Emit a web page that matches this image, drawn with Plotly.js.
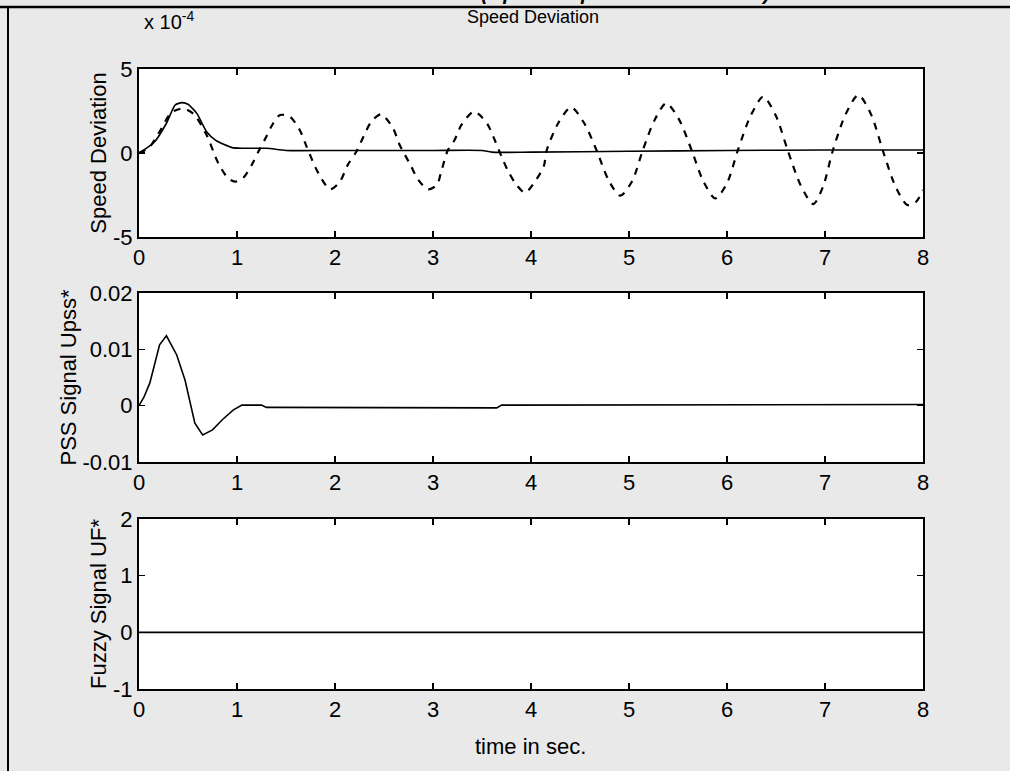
<!DOCTYPE html>
<html>
<head>
<meta charset="utf-8">
<script src="https://cdn.plot.ly/plotly-3.0.1.min.js"></script>
<style>html,body{margin:0;padding:0;background:#e9e9e9;}#chart{width:1010px;height:771px;}</style>
</head>
<body>
<div id="chart"></div>
<script>
// ---- data (speed deviation in units of 1e-4) ----
const tSpeedPSS = [0, 0.08, 0.16, 0.28, 0.37, 0.44, 0.5, 0.59, 0.69, 0.78, 0.87, 0.95, 1.05, 1.3, 1.5, 2, 3, 3.5, 3.6, 4, 5, 6, 7, 8];
const speedPSS  = [0, 0.3, 0.67, 1.77, 2.86, 3.0, 2.9, 2.36, 1.27, 0.77, 0.5, 0.32, 0.28, 0.28, 0.15, 0.15, 0.15, 0.15, 0.05, 0.05, 0.1, 0.15, 0.18, 0.18];

const tSpeedOpen = [0, 0.1, 0.21, 0.33, 0.45, 0.56, 0.69, 0.81, 0.91, 0.98, 1.06, 1.15, 1.22, 1.29, 1.37, 1.44, 1.54, 1.64, 1.71, 1.83, 1.95, 2.05, 2.13, 2.22, 2.29, 2.37, 2.47, 2.59, 2.66, 2.77, 2.85, 2.95, 3.04, 3.08, 3.15, 3.22, 3.29, 3.41, 3.47, 3.56, 3.63, 3.70, 3.76, 3.84, 3.94, 4.04, 4.13, 4.16, 4.28, 4.41, 4.54, 4.67, 4.79, 4.91, 5.03, 5.14, 5.26, 5.38, 5.51, 5.64, 5.76, 5.88, 6.00, 6.11, 6.24, 6.37, 6.50, 6.62, 6.75, 6.88, 6.98, 7.08, 7.21, 7.34, 7.47, 7.59, 7.72, 7.84, 7.93, 8.0];
const speedOpen  = [0, 0.3, 1.27, 2.4, 2.65, 2.3, 1.07, -0.62, -1.5, -1.7, -1.5, -0.71, 0.1, 0.87, 1.77, 2.26, 2.16, 1.37, 0.38, -1.2, -2.16, -1.7, -0.71, 0.1, 0.97, 1.86, 2.3, 1.5, 0.48, -0.71, -1.6, -2.16, -1.9, -1.2, 0.15, 0.77, 1.67, 2.46, 2.3, 1.67, 0.77, -0.22, -1.0, -1.8, -2.36, -1.7, -0.8, 0.15, 1.8, 2.72, 1.8, 0.15, -1.6, -2.54, -1.7, 0.15, 1.95, 2.96, 2.0, 0.15, -1.7, -2.7, -1.8, 0.15, 2.2, 3.35, 2.2, 0.15, -1.9, -3.04, -2.0, 0.15, 2.3, 3.45, 2.3, 0.15, -2.0, -3.1, -2.9, -2.2];

const tPSS = [0, 0.05, 0.11, 0.21, 0.28, 0.385, 0.47, 0.52, 0.57, 0.65, 0.75, 0.85, 0.96, 1.05, 1.25, 1.3, 1.45, 1.5, 3.65, 3.7, 8];
const pss  = [0, 0.0015, 0.004, 0.0108, 0.0124, 0.009, 0.0045, 0.0005, -0.0031, -0.0052, -0.0043, -0.0025, -0.0008, 0.0001, 0.0001, -0.0003, -0.0003, -0.0004, -0.0004, 0.0001, 0.0002];

const tFuzzy = [0, 8];
const fuzzy  = [0, 0];

const xTicks = [0, 1, 2, 3, 4, 5, 6, 7, 8];
const y1Ticks = [-5, 0, 5];
const y1Labels = ['-5', '0', '5'];
const y2Ticks = [-0.01, 0, 0.01, 0.02];
const y2Labels = ['-0.01', '0', '0.01', '0.02'];
const y3Ticks = [-1, 0, 1, 2];
const y3Labels = ['-1', '0', '1', '2'];

// ---- layout ----
const W = 1010, H = 771;
const FONT = 'Liberation Sans, Arial, sans-serif';
const px = v => v / W, py = v => 1 - v / H;

function xax(anchor) {
  return {
    domain: [px(139), px(923)], anchor: anchor, range: [0, 8],
    tickvals: xTicks, ticks: 'inside', ticklen: 6, tickwidth: 1.5, tickcolor: '#000',
    showline: true, linecolor: '#000', linewidth: 2, mirror: 'ticks',
    showgrid: false, zeroline: false,
    tickfont: {family: FONT, size: 22, color: '#000'}
  };
}
function yax(top, bot, anchor, range, tv, tt, title) {
  return {
    domain: [py(bot), py(top)], anchor: anchor, range: range,
    tickvals: tv, ticktext: tt, ticks: 'inside', ticklen: 6, tickwidth: 1.5, tickcolor: '#000',
    showline: true, linecolor: '#000', linewidth: 2, mirror: 'ticks',
    showgrid: false, zeroline: false,
    tickfont: {family: FONT, size: 22, color: '#000'},
    title: {text: title, font: {family: FONT, size: 22, color: '#000'}, standoff: 0}
  };
}

const lineStyle = {color: '#000', width: 1.6};

const data = [
  {x: tSpeedPSS, y: speedPSS, xaxis: 'x', yaxis: 'y', mode: 'lines', line: {color: '#000', width: 1.6, shape: 'spline', smoothing: 0.6}},
  {x: tSpeedOpen, y: speedOpen, xaxis: 'x', yaxis: 'y', mode: 'lines', line: {color: '#000', width: 2.2, dash: '7px,7px', shape: 'spline', smoothing: 0.8}},
  {x: tPSS, y: pss, xaxis: 'x2', yaxis: 'y2', mode: 'lines', line: lineStyle},
  {x: tFuzzy, y: fuzzy, xaxis: 'x3', yaxis: 'y3', mode: 'lines', line: lineStyle}
];

const layout = {
  width: W, height: H,
  margin: {l: 0, r: 0, t: 0, b: 0},
  paper_bgcolor: '#e9e9e9', plot_bgcolor: '#ffffff',
  showlegend: false,
  xaxis: xax('y'),
  yaxis: yax(69, 237, 'x', [-5, 5], y1Ticks, y1Labels, 'Speed Deviation'),
  xaxis2: xax('y2'),
  yaxis2: yax(293, 462, 'x2', [-0.01, 0.02], y2Ticks, y2Labels, 'PSS Signal Upss*'),
  xaxis3: xax('y3'),
  yaxis3: yax(519, 689, 'x3', [-1, 2], y3Ticks, y3Labels, 'Fuzzy Signal UF*'),
  annotations: [
    {xref: 'paper', yref: 'paper', x: px(533), y: py(17), text: 'Speed Deviation', showarrow: false,
     font: {family: FONT, size: 18, color: '#000'}, xanchor: 'center', yanchor: 'middle'},
    {xref: 'paper', yref: 'paper', x: px(142), y: py(20), text: 'x 10<sup>-4</sup>', showarrow: false,
     font: {family: FONT, size: 20, color: '#000'}, xanchor: 'left', yanchor: 'middle'},
    {xref: 'paper', yref: 'paper', x: px(530), y: py(746), text: 'time in sec.', showarrow: false,
     font: {family: FONT, size: 22, color: '#000'}, xanchor: 'center', yanchor: 'middle'},
    {xref: 'paper', yref: 'paper', x: px(625), y: py(6), text: '<b><i>(Open Loop and nominal data)</i></b>', showarrow: false,
     font: {family: FONT, size: 20, color: '#000'}, xanchor: 'center', yanchor: 'bottom'}
  ],
  shapes: [
    {type: 'line', xref: 'paper', yref: 'paper', x0: px(0), x1: px(1010), y0: py(7), y1: py(7), line: {color: '#000', width: 2.5}},
    {type: 'line', xref: 'paper', yref: 'paper', x0: px(8), x1: px(8), y0: py(7), y1: py(771), line: {color: '#000', width: 2}}
  ]
};

Plotly.newPlot('chart', data, layout, {displayModeBar: false, staticPlot: true});
</script>
</body>
</html>
